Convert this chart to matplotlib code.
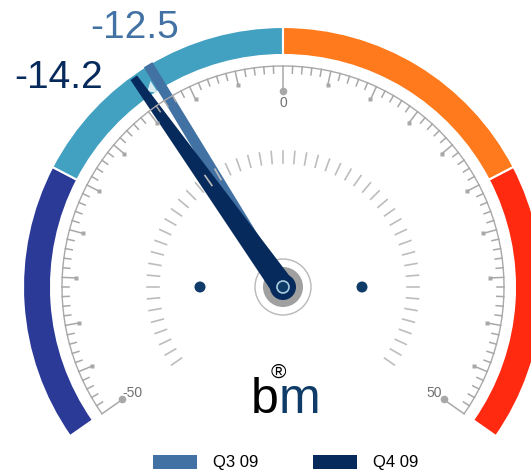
import numpy as np
import matplotlib
matplotlib.use('Agg')
import matplotlib.pyplot as plt
from matplotlib.patches import Wedge, Circle, Polygon, Rectangle

# gauge data
scale_min, scale_max = -50, 50
band_edges = [-50, -25, 0, 25, 50]
band_colors = ['#2c3a97', '#42a0c0', '#ff7a1c', '#ff2a10']
scale_labels = [-50, 0, 50]

series = ['Q3 09', 'Q4 09']
values = [-12.5, -14.2]
needle_colors = ['#4272a3', '#072a5c']
label_pos = [(-148, 259), (-224, 209)]


def ang(v):
    # -50 -> 215 deg, 0 -> 90 deg, 50 -> -35 deg
    return 90 - 2.5 * v


def pol(r, v):
    t = np.radians(ang(v))
    return r * np.cos(t), r * np.sin(t)


fig = plt.figure(figsize=(5.31, 4.71), dpi=100)
ax = fig.add_axes([0, 0, 1, 1])
ax.set_xlim(-283, 248)
ax.set_ylim(-184, 287)
ax.axis('off')

# colour bands
for i in range(len(band_colors)):
    ax.add_patch(Wedge((0, 0), 260, ang(band_edges[i + 1]), ang(band_edges[i]),
                       width=28, fc=band_colors[i], ec='white', lw=1.5))

grey = '#a8a8a8'
# outer scale arc + ticks
t = np.linspace(ang(scale_max), ang(scale_min), 300)
ax.plot(221 * np.cos(np.radians(t)), 221 * np.sin(np.radians(t)), color=grey, lw=1)
for v in range(scale_min, scale_max + 1):
    if v in scale_labels:
        r2 = 196
    elif v % 5 == 0:
        r2 = 207
    else:
        r2 = 214
    x1, y1 = pol(221, v)
    x2, y2 = pol(r2, v)
    ax.plot([x1, x2], [y1, y2], color=grey, lw=1.1)
    if v in scale_labels:
        ax.plot(x2, y2, 'o', color=grey, ms=5.5, mec='none')
    elif v % 5 == 0:
        ax.plot(x2, y2, 's', color=grey, ms=3.5, mec='none')

for v in scale_labels:
    x, y = pol(184, v)
    ax.text(x, y, str(v), color='#707070', fontsize=10,
            ha='center', va='center', family='Liberation Sans')

# inner ticks
for v in range(scale_min, scale_max + 1, 2):
    x1, y1 = pol(124, v)
    x2, y2 = pol(136, v)
    ax.plot([x1, x2], [y1, y2], color='#bdbdbd', lw=1.2)

# side dots
for sx in (-83, 79):
    ax.add_patch(Circle((sx, 0), 5.5, fc='#0e3b68', ec='none'))

# hub back
ax.add_patch(Circle((0, 0), 28, fc='none', ec='#b8b8b8', lw=1))
ax.add_patch(Circle((0, 0), 20, fc='#a0a0a0', ec='none'))

# change arrow on the band
tip = pol(238, values[1] + 0.3)
b1 = pol(231, values[0] - 0.6)
b2 = pol(245, values[0] - 0.6)
ax.add_patch(Polygon([tip, b1, b2], closed=True, fc='#d8ecf3', ec='none'))

# needles
widths = [(6, 5), (12, 4)]
lengths = [260, 257]
for val, col, (hb, ht), L in zip(values, needle_colors, widths, lengths):
    th = np.radians(ang(val))
    d = np.array([np.cos(th), np.sin(th)])
    n = np.array([-np.sin(th), np.cos(th)])
    p0 = -4 * d
    p1 = L * d
    pts = [p0 + hb * n, p1 + ht * n, p1 - ht * n, p0 - hb * n]
    ax.add_patch(Polygon(pts, closed=True, fc=col, ec='none'))

ax.add_patch(Circle((0, 0), 13, fc=needle_colors[1], ec='none'))
ax.add_patch(Circle((0, 0), 6, fc='#0e3b68', ec='#a8cde0', lw=1.2))

# value labels
for val, col, (lx, ly) in zip(values, needle_colors, label_pos):
    ax.text(lx, ly, '%.1f' % val, color=col, fontsize=28, ha='center', va='center',
            family='Liberation Sans')

# logo
ax.text(-32, -126, 'b', color='black', fontsize=36, ha='left', va='baseline',
        family='Liberation Sans')
ax.text(-4, -126, 'm', color='#0e3b68', fontsize=36, ha='left', va='baseline',
        family='Liberation Sans')
ax.text(-5, -85, '\u00ae', color='black', fontsize=15, ha='center', va='center',
        family='Liberation Sans')

# legend
leg_x = [-130, 30]
for i, name in enumerate(series):
    ax.add_patch(Rectangle((leg_x[i], -182), 44, 14, fc=needle_colors[i], ec='none'))
    ax.text(leg_x[i] + 60, -175, name, color='black', fontsize=12, ha='left',
            va='center', family='Liberation Sans')

fig.savefig('out.png', dpi=100)
